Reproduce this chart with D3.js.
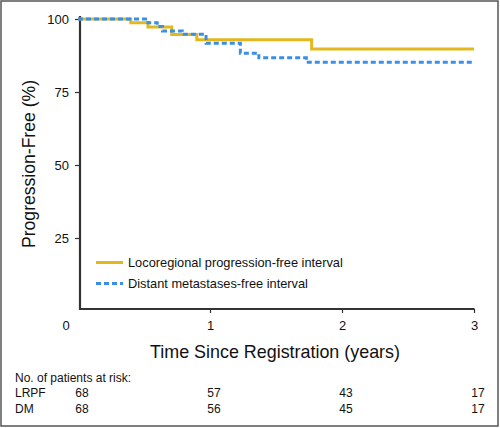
<!DOCTYPE html>
<html><head><meta charset="utf-8">
<script src="https://cdn.jsdelivr.net/npm/d3@7"></script>
<style>
html,body{margin:0;padding:0;background:#fff;}
svg{display:block;font-family:"Liberation Sans",Arial,sans-serif;}
</style></head>
<body><svg id="c" width="500" height="428"></svg>
<script>
// ---- data ----
const lrpfTimes = [0, 0.40, 0.53, 0.71, 0.90, 1.77, 3.0];
const lrpfValues = [100, 98.7, 97.3, 94.7, 92.9, 89.7, 89.7];
const dmTimes = [0, 0.53, 0.60, 0.64, 0.79, 0.97, 1.23, 1.37, 1.73, 3.0];
const dmValues = [100, 98.7, 97.4, 95.9, 94.8, 91.7, 88.3, 86.7, 85.2, 85.2];
const yTicks = [25, 50, 75, 100];
const xTicks = [1, 2, 3];
const riskTimes = [0, 1, 2, 3];
const riskLRPF = [68, 57, 43, 17];
const riskDM = [68, 56, 45, 17];
const seriesNames = ["Locoregional progression-free interval", "Distant metastases-free interval"];
const riskLabels = ["LRPF", "DM"];

const gold = "#e2b81e", blue = "#3a8fe4", axisCol = "#333";
const svg = d3.select("#c");
svg.append("rect").attr("x",1).attr("y",1).attr("width",497).attr("height",425)
  .attr("fill","#fff").attr("stroke","#555").attr("stroke-width",1.5);

const x = d3.scaleLinear().domain([0,3]).range([78,474]);
const y = d3.scaleLinear().domain([0,100]).range([311,19]);

// axes
const ya = svg.append("g").attr("transform","translate(80,0)")
  .call(d3.axisLeft(y).tickValues(yTicks).tickSize(5).tickPadding(6).tickFormat(d3.format("d")));
ya.select(".domain").remove();
ya.selectAll("line").attr("stroke",axisCol).attr("stroke-width",1.2);
ya.selectAll("text").attr("font-size",13).attr("fill","#111").attr("font-family","Liberation Sans, Arial, sans-serif");

const xa = svg.append("g").attr("transform","translate(0,309)")
  .call(d3.axisBottom(x).tickValues(xTicks).tickSize(4).tickPadding(8).tickFormat(d3.format("d")));
xa.select(".domain").remove();
xa.selectAll("line").attr("stroke",axisCol).attr("stroke-width",1.2);
xa.selectAll("text").attr("font-size",13).attr("fill","#111").attr("font-family","Liberation Sans, Arial, sans-serif");
svg.append("text").attr("x",66).attr("y",330).attr("text-anchor","middle")
  .attr("font-size",13).attr("fill","#111").text("0");

svg.append("line").attr("x1",80).attr("x2",80).attr("y1",16).attr("y2",310)
  .attr("stroke",axisCol).attr("stroke-width",2.2);
svg.append("line").attr("x1",79).attr("x2",474.5).attr("y1",309).attr("y2",309)
  .attr("stroke",axisCol).attr("stroke-width",2.2);

// curves
const line = d3.line().curve(d3.curveStepAfter).x(d=>x(d[0])).y(d=>y(d[1]));
const lr = lrpfTimes.map((t,i)=>[t,lrpfValues[i]]);
const dm = dmTimes.map((t,i)=>[t,dmValues[i]]);
svg.append("path").attr("d",line(lr)).attr("fill","none").attr("stroke",gold).attr("stroke-width",3);
svg.append("path").attr("d",line(dm)).attr("fill","none").attr("stroke",blue).attr("stroke-width",3)
  .attr("stroke-dasharray","5,3");

// legend
const lg = [[gold,null],[blue,"5,3"]];
lg.forEach((s,i)=>{
  const ly = 262.5 + i*21;
  svg.append("line").attr("x1",96).attr("x2",123).attr("y1",ly).attr("y2",ly)
    .attr("stroke",s[0]).attr("stroke-width",3).attr("stroke-dasharray",s[1]);
  svg.append("text").attr("x",128).attr("y",ly+4.5).attr("font-size",12.8).attr("fill","#111")
    .text(seriesNames[i]);
});

// titles
svg.append("text").attr("transform","translate(35,164) rotate(-90)").attr("text-anchor","middle")
  .attr("font-family","Liberation Sans Narrow, Liberation Sans, Arial, sans-serif")
  .attr("font-size",19).attr("fill","#111")
  .attr("textLength",168).attr("lengthAdjust","spacingAndGlyphs")
  .text("Progression-Free (%)");
svg.append("text").attr("x",275).attr("y",358).attr("text-anchor","middle")
  .attr("font-family","Liberation Sans Narrow, Liberation Sans, Arial, sans-serif")
  .attr("font-size",19).attr("fill","#111")
  .attr("textLength",250).attr("lengthAdjust","spacingAndGlyphs")
  .text("Time Since Registration (years)");

// risk table
svg.append("text").attr("x",15).attr("y",382).attr("font-size",12).attr("fill","#111")
  .text("No. of patients at risk:");
[riskLRPF, riskDM].forEach((row,r)=>{
  const ry = 397 + r*15.5;
  svg.append("text").attr("x",15).attr("y",ry).attr("font-size",12).attr("fill","#111").text(riskLabels[r]);
  row.forEach((v,i)=>{
    svg.append("text").attr("x",x(riskTimes[i])+4).attr("y",ry).attr("text-anchor","middle")
      .attr("font-size",12).attr("fill","#111").text(v);
  });
});
</script></body></html>
